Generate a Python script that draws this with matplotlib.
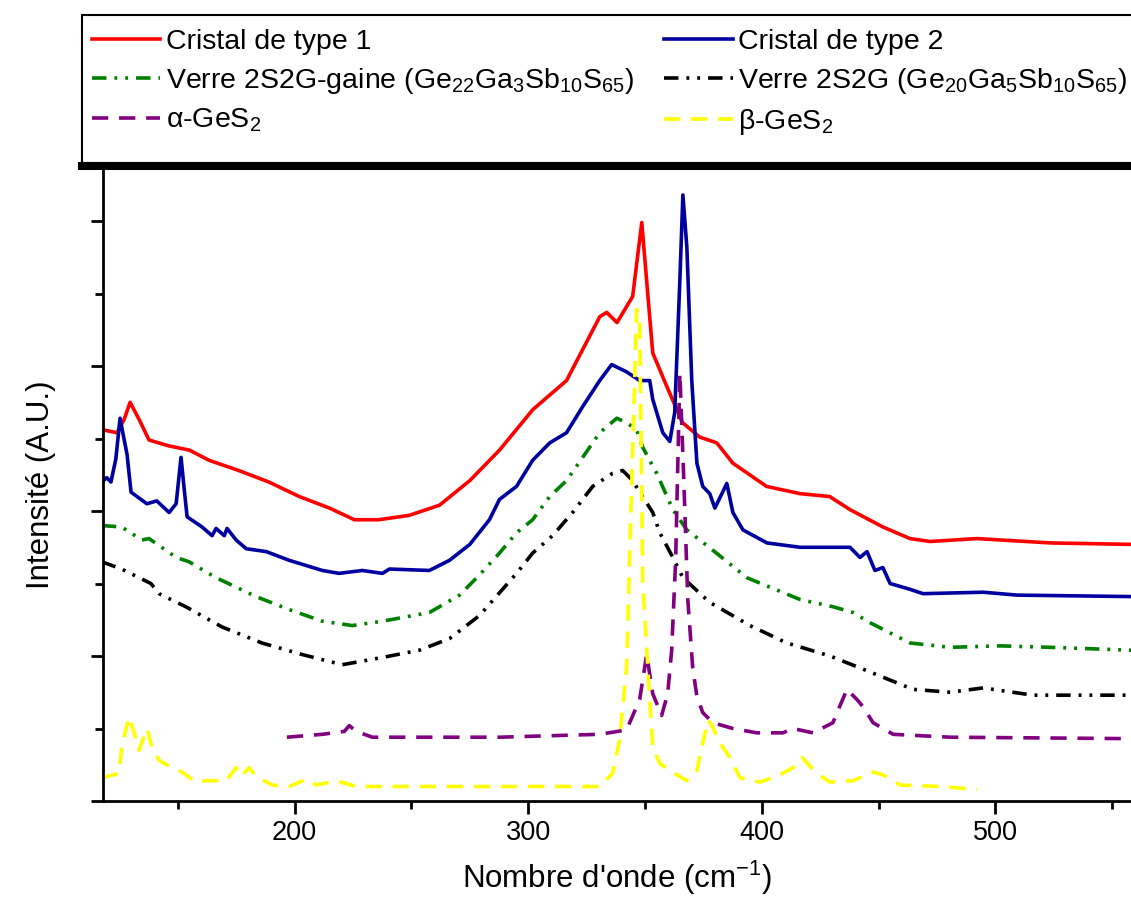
import matplotlib
matplotlib.use('Agg')
import matplotlib.pyplot as plt
from matplotlib.lines import Line2D
from matplotlib.patches import Rectangle
from matplotlib.ticker import MultipleLocator, NullFormatter

plt.rcParams['font.family'] = ['Liberation Sans', 'DejaVu Sans']
plt.rcParams['mathtext.fontset'] = 'custom'
plt.rcParams['mathtext.rm'] = 'Liberation Sans'
plt.rcParams['mathtext.it'] = 'Liberation Sans:italic'
plt.rcParams['mathtext.bf'] = 'Liberation Sans:bold'

# Cristal de type 1
x_c1 = [118, 124, 127, 129.6, 133.5, 137.7, 146, 155, 163.4, 176, 189, 202, 215, 225.6, 236, 249,
        262, 275, 287.7, 302, 316.4, 330.6, 333.6, 338, 344.7, 348.6, 353.3, 359.3, 366, 373.4,
        380.7, 387.6, 402, 416.3, 429, 437.7, 451.8, 463.4, 472, 492, 523.5, 558]
y_c1 = [2.56, 2.54, 2.63, 2.75, 2.63, 2.49, 2.45, 2.42, 2.35, 2.28, 2.20, 2.10, 2.02, 1.94, 1.94, 1.97,
        2.04, 2.21, 2.42, 2.70, 2.90, 3.34, 3.37, 3.30, 3.48, 3.99, 3.09, 2.86, 2.61, 2.51,
        2.47, 2.33, 2.17, 2.12, 2.10, 2.01, 1.89, 1.81, 1.79, 1.81, 1.78, 1.77]

# Cristal de type 2
x_c2 = [117.5, 119.6, 121.4, 123.5, 125.3, 126.6, 128.3, 130, 133.4, 136.8, 141, 146.3, 149.3, 151.4,
        152.7, 154, 160.4, 164.7, 166.4, 169.9, 171.1, 175, 179.3, 187.9, 197.7, 211.9, 219, 229,
        237.6, 240.6, 257.7, 266.3, 275, 283.4, 287.7, 295, 301.9, 309.2, 316.4, 323.3, 330.6,
        335.7, 342.1, 347.7, 352, 353.3, 357.6, 360.6, 362.7, 364.9, 366.2, 367.9, 370, 372.2,
        374.7, 377.7, 379.9, 385, 387.6, 391.9, 402.2, 416.3, 437.7, 442, 445, 448.4, 451.8,
        454.9, 463.4, 469, 494.7, 509.3, 558]
y_c2 = [2.20, 2.23, 2.20, 2.36, 2.64, 2.53, 2.39, 2.13, 2.09, 2.05, 2.07, 1.99, 2.05, 2.37,
        2.16, 1.96, 1.89, 1.83, 1.88, 1.83, 1.88, 1.80, 1.74, 1.72, 1.66, 1.59, 1.57, 1.59,
        1.57, 1.60, 1.59, 1.66, 1.77, 1.94, 2.08, 2.17, 2.35, 2.47, 2.54, 2.72, 2.90,
        3.01, 2.96, 2.90, 2.90, 2.77, 2.54, 2.48, 2.68, 3.59, 4.18, 3.82, 2.90, 2.33,
        2.17, 2.12, 2.02, 2.19, 1.99, 1.87, 1.78, 1.75, 1.75, 1.68, 1.72, 1.59, 1.61,
        1.50, 1.46, 1.43, 1.44, 1.42, 1.41]

# Verre 2S2G-gaine
x_gaine = [117.5, 126, 134.6, 137.7, 149.3, 154.8, 166.4, 183.5, 197.7, 211.9, 224.7, 237.6, 257.7,
           270.6, 279.2, 287.7, 295, 301.9, 309.2, 316.4, 323.3, 330.6, 337.9, 342.1, 346.4, 349,
           355, 361.9, 367.9, 379, 393.6, 416.3, 430.4, 439, 446.3, 453.6, 463.4, 480.6, 502,
           523.5, 558]
y_gaine = [1.90, 1.89, 1.80, 1.81, 1.68, 1.65, 1.54, 1.41, 1.32, 1.24, 1.21, 1.24, 1.30,
           1.42, 1.56, 1.71, 1.85, 1.94, 2.10, 2.21, 2.37, 2.54, 2.64, 2.61, 2.56, 2.44,
           2.26, 2.01, 1.87, 1.73, 1.54, 1.39, 1.34, 1.30, 1.23, 1.17, 1.09, 1.06, 1.07,
           1.06, 1.04]

# Verre 2S2G
x_2s2g = [117.5, 126, 138.5, 142, 153.4, 169, 186, 203.3, 220.4, 237.6, 253.4, 266.3, 279.2, 295,
          301.9, 310.4, 319, 327.6, 336.1, 340.4, 344.7, 347.7, 353.3, 356.3, 361.9, 366.2,
          377.7, 394.9, 410.7, 429.2, 446.3, 464.7, 480.6, 494.7, 516, 558]
y_2s2g = [1.65, 1.60, 1.50, 1.43, 1.34, 1.20, 1.09, 1.01, 0.94, 0.99, 1.04, 1.12, 1.28, 1.57,
          1.71, 1.83, 1.99, 2.17, 2.26, 2.28, 2.21, 2.13, 1.99, 1.85, 1.68, 1.54,
          1.37, 1.21, 1.09, 1.00, 0.89, 0.77, 0.75, 0.78, 0.73, 0.73]

# alpha-GeS2
x_alpha = [196.7, 211.9, 221.3, 223.4, 226.4, 233.3, 287.7, 330.6, 342.1, 347.7, 350.7, 353.3,
           357.1, 359.7, 361.4, 363.1, 364.9, 366.6, 368.3, 370.4, 372.2, 374.7, 379, 387.6,
           397.9, 409, 413.3, 421.9, 430.4, 436.4, 440.7, 443.3, 447.6, 456.2, 480.6, 558]
y_alpha = [0.44, 0.46, 0.48, 0.52, 0.48, 0.44, 0.44, 0.46, 0.49, 0.70, 1.01, 0.74,
           0.59, 0.74, 1.04, 1.66, 2.95, 2.21, 1.39, 0.92, 0.72, 0.61, 0.54, 0.50,
           0.47, 0.47, 0.50, 0.47, 0.54, 0.77, 0.70, 0.65, 0.54, 0.46, 0.44, 0.43]

# beta-GeS2
x_beta = [117.5, 124.8, 126, 129.1, 131.3, 133.4, 136.8, 139, 142, 147.5, 151.8, 157.8, 162, 170.7,
          175, 177.1, 180.5, 183.5, 190.4, 197.7, 205, 209.3, 217.8, 226.4, 330.6, 336.1, 339.1,
          342.1, 344.7, 346.4, 347.7, 349, 352, 353.3, 356.3, 360.6, 367.9, 372.2, 374.3, 376.9,
          379, 381.2, 386.3, 390.6, 399.2, 407.7, 413.3, 417.2, 423.6, 429.2, 439, 447.6, 451.9,
          459.2, 476.3, 492.2]
y_beta = [0.16, 0.19, 0.37, 0.58, 0.47, 0.35, 0.50, 0.37, 0.28, 0.23, 0.20, 0.13, 0.14, 0.14,
          0.23, 0.17, 0.23, 0.17, 0.11, 0.10, 0.15, 0.11, 0.14, 0.10, 0.10, 0.19, 0.42,
          0.92, 2.42, 3.39, 3.32, 1.52, 0.70, 0.37, 0.26, 0.21, 0.14, 0.21, 0.37, 0.56,
          0.51, 0.42, 0.30, 0.16, 0.13, 0.18, 0.23, 0.30, 0.19, 0.13, 0.14, 0.20, 0.18,
          0.11, 0.10, 0.08]

W, H = 1131, 898
fig = plt.figure(figsize=(W / 100, H / 100), dpi=100)
ax = fig.add_axes([103 / W, 1 - 801 / H, 1 - 103 / W, (801 - 168) / H])

lw = 2.6
dashdotdot = (0, (4, 2.2, 0.8, 2.2, 0.8, 2.2))
dashed = (0, (4.5, 3))
l1, = ax.plot(x_c1, y_c1, color='#ff0000', lw=lw, label='Cristal de type 1')
l2, = ax.plot(x_c2, y_c2, color='#0000a0', lw=lw, label='Cristal de type 2')
l3, = ax.plot(x_gaine, y_gaine, color='#008000', lw=lw, ls=dashdotdot,
              label=r'Verre 2S2G-gaine (Ge$_{22}$Ga$_{3}$Sb$_{10}$S$_{65}$)')
l4, = ax.plot(x_2s2g, y_2s2g, color='black', lw=lw, ls=dashdotdot,
              label=r'Verre 2S2G (Ge$_{20}$Ga$_{5}$Sb$_{10}$S$_{65}$)')
l5, = ax.plot(x_alpha, y_alpha, color='#800080', lw=lw, ls=dashed, label=r'α-GeS$_{2}$')
l6, = ax.plot(x_beta, y_beta, color='#ffff00', lw=lw, ls=dashed, label=r'β-GeS$_{2}$')

ax.set_xlim(118, 558)
ax.set_ylim(0, 4.366)
ax.spines['top'].set_visible(False)
ax.spines['right'].set_visible(False)
ax.spines['left'].set_linewidth(2)
ax.spines['bottom'].set_linewidth(2)
ax.xaxis.set_major_locator(MultipleLocator(100))
ax.xaxis.set_minor_locator(MultipleLocator(50))
ax.yaxis.set_major_locator(MultipleLocator(1))
ax.yaxis.set_minor_locator(MultipleLocator(0.5))
ax.yaxis.set_major_formatter(NullFormatter())
ax.tick_params(which='major', direction='out', length=9, width=2, labelsize=19.5, pad=5)
ax.tick_params(which='minor', direction='out', length=6, width=2)
ax.set_xlabel(r"Nombre d'onde (cm$^{-1}$)", fontsize=22.5, labelpad=9)
ax.set_ylabel('Intensité (A.U.)', fontsize=22.5, labelpad=20)

handles = [l1, l3, l5, l2, l4, l6]
fig.legend(handles, [h.get_label() for h in handles], ncol=2, loc='upper left',
           bbox_to_anchor=(92 / W, 1 - 29 / H), frameon=False, fontsize=20.5,
           handlelength=2.4, handletextpad=0.2, columnspacing=1.05, labelspacing=0.38,
           borderaxespad=0, borderpad=0)

fig.add_artist(Rectangle((82 / W, 1 - 163 / H), 1.0, (163 - 15) / H, transform=fig.transFigure,
                         fill=False, ec='black', lw=1.5))
fig.add_artist(Line2D([82 / W, 1.0], [1 - 166 / H, 1 - 166 / H], transform=fig.transFigure,
                      color='black', lw=5.8))

fig.savefig('out.png', dpi=100)
